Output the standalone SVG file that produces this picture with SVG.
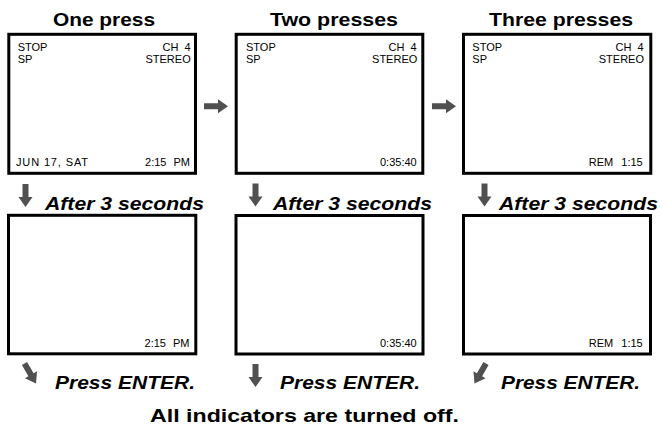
<svg xmlns="http://www.w3.org/2000/svg" width="660" height="425" viewBox="0 0 660 425">
<style>
.scr{fill:#fff;stroke:#000;stroke-width:3}
.t{font-family:"Liberation Sans",Arial,sans-serif;font-size:11px;fill:#000}
.e{text-anchor:end}
.title{font-family:"Liberation Sans",Arial,sans-serif;font-weight:bold;font-size:19px;fill:#000}
.lbl{font-family:"Liberation Sans",Arial,sans-serif;font-weight:bold;font-style:italic;font-size:18px;fill:#000}
.ar{fill:#505050}
</style>
<defs>
<path id="adown" d="M-3,0 H3 V13 H7 L0,23 L-7,13 H-3 Z"/>
<path id="aright" d="M0,-3 V3 H14 V7 L24,0 L14,-7 V-3 Z"/>
</defs>
<rect width="660" height="425" fill="#fff"/>

<g id="title-one"><text class="title" x="53" y="26" textLength="102" lengthAdjust="spacingAndGlyphs">One press</text></g>
<g id="title-two"><text class="title" x="270" y="26" textLength="128" lengthAdjust="spacingAndGlyphs">Two presses</text></g>
<g id="title-three"><text class="title" x="489" y="26" textLength="144" lengthAdjust="spacingAndGlyphs">Three presses</text></g>

<g id="screen1">
<rect class="scr" x="8.8" y="34.3" width="186.7" height="139"/>
<text class="t" x="17.7" y="51">STOP</text>
<text class="t" x="17.7" y="62.7">SP</text>
<text class="t e" x="190.5" y="51" word-spacing="3">CH 4</text>
<text class="t e" x="190.7" y="62.7">STEREO</text>
<text class="t" x="16" y="165.7" textLength="72" lengthAdjust="spacing">JUN 17, SAT</text>
<text class="t e" x="190" y="165.7" word-spacing="4">2:15 PM</text>
</g>
<g id="screen2">
<rect class="scr" x="236.2" y="34.3" width="186.6" height="139"/>
<text class="t" x="246" y="51">STOP</text>
<text class="t" x="246" y="62.7">SP</text>
<text class="t e" x="416.5" y="51" word-spacing="3">CH 4</text>
<text class="t e" x="417.3" y="62.7">STEREO</text>
<text class="t e" x="416.7" y="166">0:35:40</text>
</g>
<g id="screen3">
<rect class="scr" x="463.5" y="34.3" width="187.3" height="139"/>
<text class="t" x="472.3" y="51">STOP</text>
<text class="t" x="472.3" y="62.7">SP</text>
<text class="t e" x="643.5" y="51" word-spacing="3">CH 4</text>
<text class="t e" x="644" y="62.7">STEREO</text>
<text class="t e" x="642.7" y="166" word-spacing="5">REM 1:15</text>
</g>

<g id="label-after1"><text class="lbl" x="45" y="209.5" textLength="159" lengthAdjust="spacingAndGlyphs">After 3 seconds</text></g>
<g id="label-after2"><text class="lbl" x="273" y="209.5" textLength="159" lengthAdjust="spacingAndGlyphs">After 3 seconds</text></g>
<g id="label-after3"><text class="lbl" x="499" y="209.5" textLength="159" lengthAdjust="spacingAndGlyphs">After 3 seconds</text></g>

<g id="screen4">
<rect class="scr" x="8.5" y="215.3" width="187.3" height="138.5"/>
<text class="t e" x="189.5" y="346.7" word-spacing="4">2:15 PM</text>
</g>
<g id="screen5">
<rect class="scr" x="236" y="215.5" width="187" height="138.5"/>
<text class="t e" x="416.7" y="347">0:35:40</text>
</g>
<g id="screen6">
<rect class="scr" x="463.5" y="215.5" width="187" height="138.5"/>
<text class="t e" x="642.7" y="347" word-spacing="5">REM 1:15</text>
</g>

<g id="label-press1"><text class="lbl" x="55" y="388.5" font-size="19" textLength="140" lengthAdjust="spacingAndGlyphs">Press ENTER.</text></g>
<g id="label-press2"><text class="lbl" x="280" y="389.3" font-size="19" textLength="140" lengthAdjust="spacingAndGlyphs">Press ENTER.</text></g>
<g id="label-press3"><text class="lbl" x="501" y="388.5" font-size="19" textLength="139" lengthAdjust="spacingAndGlyphs">Press ENTER.</text></g>

<g id="footer"><text class="title" x="150" y="421.7" font-size="20" textLength="309" lengthAdjust="spacingAndGlyphs">All indicators are turned off.</text></g>

<g id="connectors">
<use href="#aright" class="ar" x="204" y="106.3"/>
<use href="#aright" class="ar" x="432" y="106.3"/>
<use href="#adown" class="ar" x="25.5" y="184"/>
<use href="#adown" class="ar" x="255.5" y="183.5"/>
<use href="#adown" class="ar" x="484.5" y="183.5"/>
<use href="#adown" class="ar" transform="translate(24.5,363.5) rotate(-30)"/>
<use href="#adown" class="ar" x="255.5" y="364"/>
<use href="#adown" class="ar" transform="translate(486,363.5) rotate(30)"/>
</g>
</svg>
